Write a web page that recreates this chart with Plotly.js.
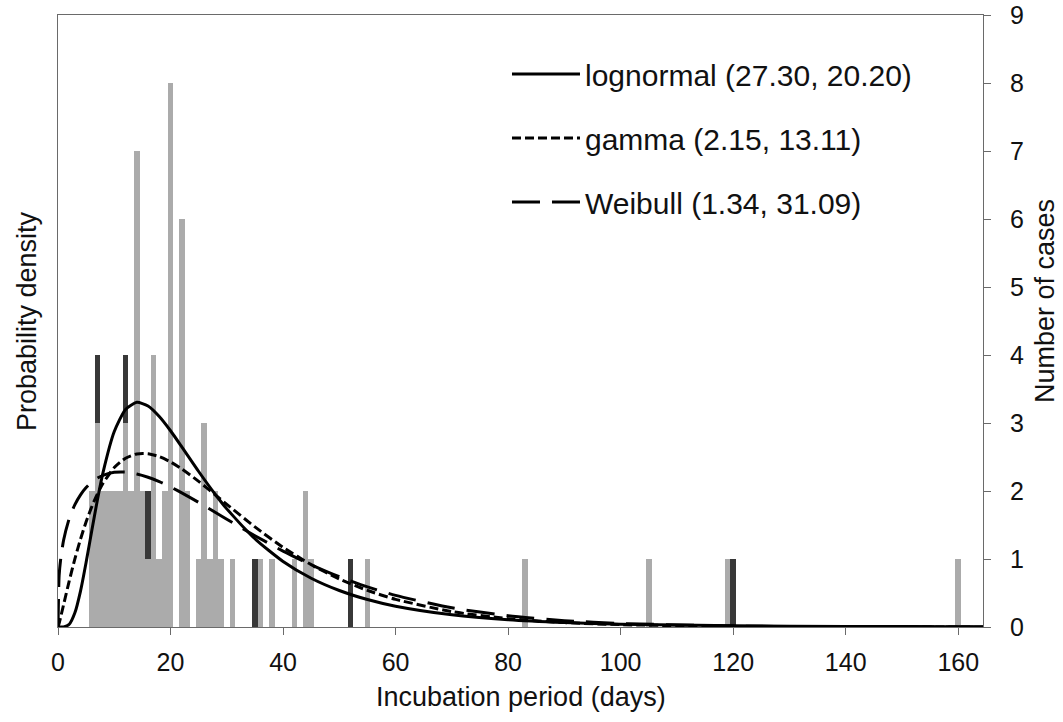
<!DOCTYPE html>
<html>
<head>
<meta charset="utf-8">
<script src="https://cdn.plot.ly/plotly-3.0.1.min.js"></script>
<style>
  html, body { margin: 0; padding: 0; background: #fff; }
  #chart { width: 1063px; height: 722px; }
</style>
</head>
<body>
<div id="chart"></div>
<script>
// ---- Case counts by incubation day ----
var grayDays   = [6, 7, 8, 9, 10, 11, 12, 13, 14, 15, 16, 17, 18, 19, 20, 22, 23, 25, 26, 27, 28, 29, 31, 36, 38, 42, 44, 45, 55, 83, 105, 119, 160];
var grayCounts = [2, 3, 2, 2, 2,  2,  3,  2,  7,  2,  1,  4,  1,  2,  8,  6,  2,  1,  3,  1,  2,  1,  1,  1,  1,  1,  2,  1,  1,  1,  1,   1,   1];
var darkDays   = [7, 12, 16, 35, 52, 120];
var darkCounts = [1, 1,  1,  1,  1,  1];

// ---- Fitted densities ----
var curveX    = [0, 0.2, 0.5, 1, 2, 3, 4, 5, 6, 7, 8, 10, 12, 14, 16, 18, 20, 22, 25, 28, 30, 35, 40, 45, 50, 55, 60, 70, 80, 90, 100, 120, 140, 160, 165];
var lognormal = [0, 0, 0, 0.00001, 0.00042, 0.00216, 0.00547, 0.00986, 0.01467, 0.01934, 0.02351, 0.02976, 0.03314, 0.03421, 0.03366, 0.03206, 0.02989, 0.02744, 0.02368, 0.02014, 0.01799, 0.01344, 0.00999, 0.00743, 0.00556, 0.00418, 0.00316, 0.00185, 0.00111, 0.00069, 0.00043, 0.00019, 0.00008, 0.00004, 0.00004];
var gamma     = [0, 0.00057, 0.0016, 0.00342, 0.00702, 0.01037, 0.01338, 0.01603, 0.01831, 0.02026, 0.02188, 0.02428, 0.02571, 0.02636, 0.02638, 0.02594, 0.02514, 0.02408, 0.02218, 0.02009, 0.01868, 0.01524, 0.01213, 0.00949, 0.00731, 0.00557, 0.00421, 0.00234, 0.00127, 0.00068, 0.00036, 0.0001, 0.00002, 0.00001, 0];
var weibull   = [0, 0.0078, 0.0105, 0.01326, 0.01653, 0.01864, 0.02013, 0.02124, 0.02206, 0.02267, 0.0231, 0.02355, 0.02359, 0.02331, 0.02281, 0.02213, 0.02133, 0.02043, 0.01897, 0.01744, 0.01641, 0.0139, 0.01156, 0.00947, 0.00765, 0.00611, 0.00482, 0.00292, 0.00171, 0.00097, 0.00054, 0.00015, 0.00004, 0.00001, 0.00001];

var seriesNames = ['lognormal (27.30, 20.20)', 'gamma (2.15, 13.11)', 'Weibull (1.34, 31.09)'];
var xTicks = [0, 20, 40, 60, 80, 100, 120, 140, 160];
var yTicks = [0, 1, 2, 3, 4, 5, 6, 7, 8, 9];

var FONT = 'Liberation Sans, Arial, sans-serif';
var AX = '#6a6a6a';

var traces = [
  { type: 'bar', x: grayDays, y: grayCounts, width: 1, xaxis: 'x', yaxis: 'y',
    marker: { color: '#ababab', line: { width: 0 } }, showlegend: false, hoverinfo: 'skip' },
  { type: 'bar', x: darkDays, y: darkCounts, width: 1, xaxis: 'x', yaxis: 'y',
    marker: { color: '#383838', line: { width: 0 } }, showlegend: false, hoverinfo: 'skip' },
  { type: 'scatter', mode: 'lines', x: curveX, y: lognormal, xaxis: 'x', yaxis: 'y2', name: seriesNames[0],
    legendgroup: 'a', line: { color: '#000', width: 3, shape: 'spline', smoothing: 0.6 } },
  { type: 'scatter', mode: 'lines', x: curveX, y: gamma, xaxis: 'x', yaxis: 'y2', name: seriesNames[1],
    legendgroup: 'b', line: { color: '#000', width: 3, dash: '9px,4px', shape: 'spline', smoothing: 0.6 } },
  { type: 'scatter', mode: 'lines', x: curveX, y: weibull, xaxis: 'x', yaxis: 'y2', name: seriesNames[2],
    legendgroup: 'c', line: { color: '#000', width: 3, dash: '28px,12px', shape: 'spline', smoothing: 0.6 } }
];

var layout = {
  width: 1063, height: 722,
  margin: { l: 58, r: 80, t: 15, b: 95 },
  paper_bgcolor: '#fff', plot_bgcolor: '#fff',
  font: { family: FONT, color: '#111', size: 25 },
  barmode: 'stack', bargap: 0,
  showlegend: true,
  legend: { x: 0.4854, y: 0.946, xanchor: 'left', yanchor: 'top', bgcolor: 'rgba(0,0,0,0)',
            font: { family: FONT, size: 30, color: '#111' }, itemwidth: 68, tracegroupgap: 22 },
  xaxis: { range: [0, 164.4], tickvals: xTicks, ticktext: xTicks.map(String), ticks: 'outside', ticklen: 7,
           tickcolor: AX, showline: true, linecolor: AX, linewidth: 1, mirror: true, showgrid: false, zeroline: false,
           tickfont: { size: 25 }, ticklabelstandoff: 6, fixedrange: true },
  xaxis2: { overlaying: 'x', anchor: 'y', range: [0, 164.4], tickvals: xTicks, ticks: 'inside', ticklen: 7,
            tickcolor: AX, showticklabels: false, showline: false, showgrid: false, zeroline: false },
  yaxis: { side: 'right', range: [0, 9], tickvals: yTicks, ticks: 'outside', ticklen: 7, tickcolor: AX,
           showline: true, linecolor: AX, linewidth: 1, showgrid: false, zeroline: false,
           tickfont: { size: 25 }, ticklabelstandoff: 14 },
  yaxis2: { overlaying: 'y', side: 'left', range: [0, 0.0932], showticklabels: false, ticks: '',
            showline: true, linecolor: AX, linewidth: 1, showgrid: false, zeroline: false },
  yaxis3: { overlaying: 'y', side: 'right', anchor: 'x', range: [0, 9], tickvals: yTicks, ticks: 'inside', ticklen: 7,
            tickcolor: AX, showticklabels: false, showline: false, showgrid: false, zeroline: false },
  annotations: [
    { text: 'Incubation period (days)', xref: 'paper', yref: 'paper', x: 0.5, y: -0.1144,
      xanchor: 'center', yanchor: 'middle', showarrow: false, font: { size: 27, family: FONT, color: '#111' } },
    { text: 'Probability density', xref: 'paper', yref: 'paper', x: -0.0335, y: 0.5, textangle: -90,
      xanchor: 'center', yanchor: 'middle', showarrow: false, font: { size: 27, family: FONT, color: '#111' } },
    { text: 'Number of cases', xref: 'paper', yref: 'paper', x: 1.067, y: 0.5327, textangle: -90,
      xanchor: 'center', yanchor: 'middle', showarrow: false, font: { size: 27, family: FONT, color: '#111' } }
  ]
};

Plotly.newPlot('chart', traces, layout, { displayModeBar: false, staticPlot: true });
</script>
</body>
</html>
